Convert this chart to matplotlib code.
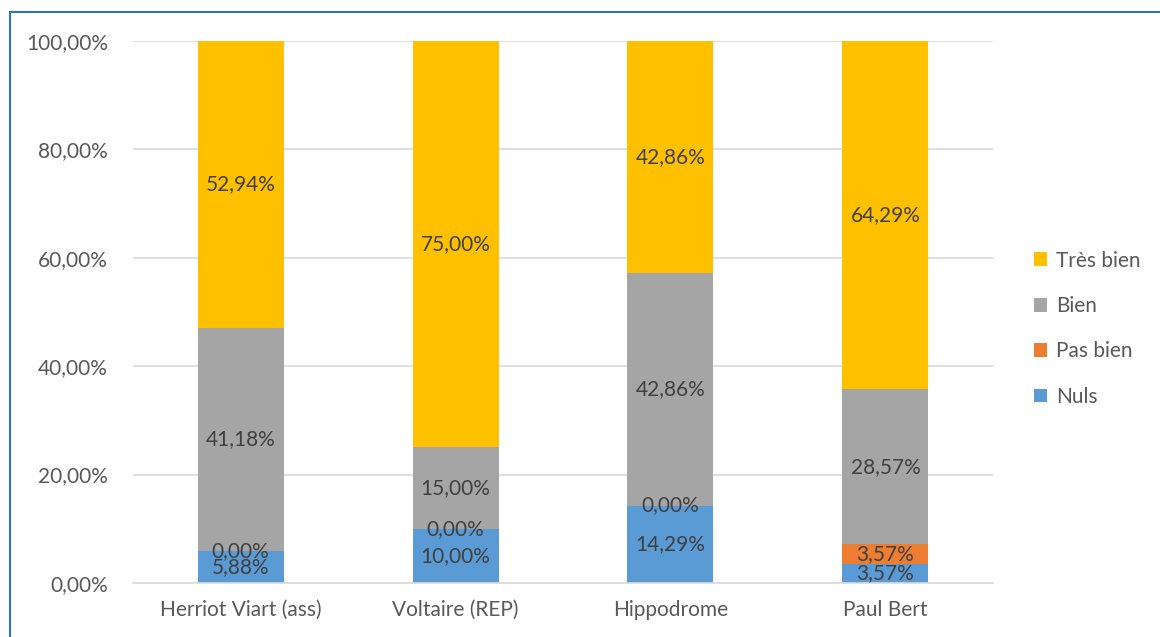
import matplotlib.pyplot as plt
from matplotlib.patches import Patch
from matplotlib.lines import Line2D
import numpy as np

# Données
categories = ['Herriot Viart (ass)', 'Voltaire (REP)', 'Hippodrome', 'Paul Bert']
nuls = [5.88, 10.00, 14.29, 3.57]
pas_bien = [0.00, 0.00, 0.00, 3.57]
bien = [41.18, 15.00, 42.86, 28.57]
tres_bien = [52.94, 75.00, 42.86, 64.29]
yticks = [0, 20, 40, 60, 80, 100]

series = [
    ('Nuls', nuls, '#5B9BD5'),
    ('Pas bien', pas_bien, '#ED7D31'),
    ('Bien', bien, '#A5A5A5'),
    ('Très bien', tres_bien, '#FFC000'),
]

plt.rcParams['font.family'] = ['Lato', 'DejaVu Sans']
text_color = '#595959'
fs = 15


def fmt(v):
    return f'{v:.2f}%'.replace('.', ',')


fig = plt.figure(figsize=(11.6, 6.37), dpi=100)
ax = fig.add_axes([0.1147, 0.0848, 0.7413, 0.8509])

x = np.arange(len(categories))
bottom = np.zeros(len(categories))
for name, vals, color in series:
    vals = np.array(vals)
    ax.bar(x, vals, width=0.4, bottom=bottom, color=color, label=name, zorder=2)
    for xi, b, v in zip(x, bottom, vals):
        ax.text(xi, b + v / 2, fmt(v), ha='center', va='center',
                fontsize=fs, color='#404040', zorder=3)
    bottom += vals

ax.set_xlim(-0.5, len(categories) - 0.5)
ax.set_ylim(0, 100)
ax.set_yticks(yticks)
ax.set_yticklabels([fmt(v) for v in yticks])
ax.set_xticks(x)
ax.set_xticklabels(categories)
ax.tick_params(axis='both', length=0, labelsize=fs, colors=text_color)
ax.tick_params(axis='y', pad=18)
ax.tick_params(axis='x', pad=12)
ax.grid(axis='y', color='#D9D9D9', linewidth=1.2, zorder=0)
for s in ['top', 'right', 'left']:
    ax.spines[s].set_visible(False)
ax.spines['bottom'].set_color('#D9D9D9')
ax.spines['bottom'].set_linewidth(1.2)

# Légende
handles = [Patch(facecolor=c, label=n) for n, _, c in reversed(series)]
leg = fig.legend(handles=handles, loc='center left', bbox_to_anchor=(0.875, 0.484),
                 frameon=False, fontsize=fs, handlelength=0.65, handleheight=0.65,
                 handletextpad=0.4, labelspacing=1.22)
for t in leg.get_texts():
    t.set_color(text_color)

# Cadre du graphique
fig.add_artist(Line2D([0.0088, 0.0088], [0, 0.981], color='#2E75B6', linewidth=1.5,
                      transform=fig.transFigure))
fig.add_artist(Line2D([0.0088, 1], [0.981, 0.981], color='#2E75B6', linewidth=1.5,
                      transform=fig.transFigure))

fig.savefig('out.png', dpi=100)
